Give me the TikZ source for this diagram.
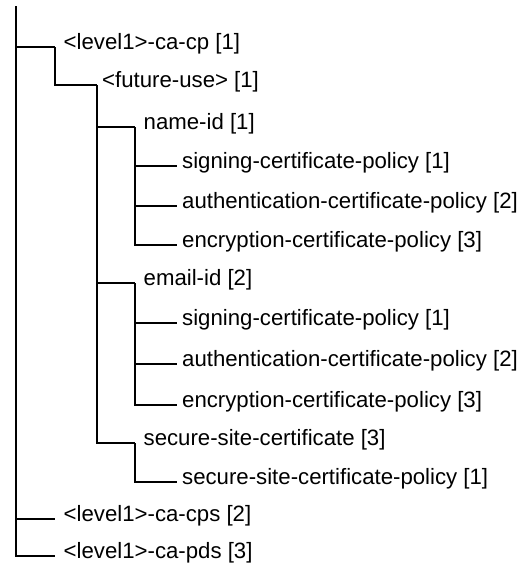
\documentclass[tikz,border=0pt]{standalone}
\usepackage{fontspec}
\setmainfont{Liberation Sans}
\usetikzlibrary{positioning}

\begin{document}
\begin{tikzpicture}[
  x=1pt, y=-1pt,
  entry/.style={anchor=west, inner xsep=5pt, inner ysep=0pt, text height=0.74em, text depth=0.24em, font=\fontsize{22.2}{26}\selectfont},
  wideentry/.style={entry, inner xsep=8.5pt},
  branch/.style={black, line width=1.7pt},
]
  \useasboundingbox (0,0) rectangle (522,574);

  % Root trunk
  \coordinate (root) at (16,6);

  % Level 1
  \node[wideentry] (cacp) at (55,47) {<level1>-ca-cp [1]};
  \node[entry] (future) at (97,85) {<future-use> [1]};

  % name-id branch
  \node[wideentry] (nameid) at (135,127) {name-id [1]};
  \node[entry] (nsign) at (177,166) {signing-certificate-policy [1]};
  \node[entry] (nauth) at (177,206) {authentication-certificate-policy [2]};
  \node[entry] (nencr) at (177,245) {encryption-certificate-policy [3]};

  % email-id branch
  \node[wideentry] (emailid) at (135,283) {email-id [2]};
  \node[entry] (esign) at (177,323) {signing-certificate-policy [1]};
  \node[entry] (eauth) at (177,364) {authentication-certificate-policy [2]};
  \node[entry] (eencr) at (177,405) {encryption-certificate-policy [3]};

  % secure-site branch
  \node[wideentry] (secure) at (135,443) {secure-site-certificate [3]};
  \node[entry] (spolicy) at (177,482) {secure-site-certificate-policy [1]};

  % Remaining level 1
  \node[wideentry] (cacps) at (55,519) {<level1>-ca-cps [2]};
  \node[wideentry] (capds) at (55,556) {<level1>-ca-pds [3]};

  % Connectors
  \draw[branch] (root) |- (cacp.west);
  \draw[branch] (root) |- (cacps.west);
  \draw[branch] (root) |- (capds.west);
  \draw[branch] (cacp.west) |- (future.west);
  \draw[branch] (future.west) |- (nameid.west);
  \draw[branch] (future.west) |- (emailid.west);
  \draw[branch] (future.west) |- (secure.west);
  \draw[branch] (nameid.west) |- (nsign.west);
  \draw[branch] (nameid.west) |- (nauth.west);
  \draw[branch] (nameid.west) |- (nencr.west);
  \draw[branch] (emailid.west) |- (esign.west);
  \draw[branch] (emailid.west) |- (eauth.west);
  \draw[branch] (emailid.west) |- (eencr.west);
  \draw[branch] (secure.west) |- (spolicy.west);
\end{tikzpicture}
\end{document}
